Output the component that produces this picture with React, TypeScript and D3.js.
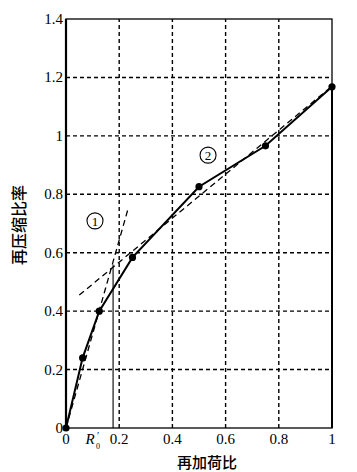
import React from "react";
import * as d3 from "d3";

const pointsX = [0, 0.0625, 0.125, 0.25, 0.5, 0.75, 1];
const pointsY = [0, 0.24, 0.4, 0.584, 0.826, 0.966, 1.168];
const tangent1X = [0, 0.232];
const tangent1Y = [0, 0.746];
const tangent2X = [0.05, 1];
const tangent2Y = [0.455, 1.17];
const rPrime = 0.177;
const rPrimeTop = 0.56;
const xTicks = [0.2, 0.4, 0.6, 0.8, 1];
const xTickLabels = ["0.2", "0.4", "0.6", "0.8", "1"];
const yTicks = [0, 0.2, 0.4, 0.6, 0.8, 1, 1.2, 1.4];
const yTickLabels = ["0", "0.2", "0.4", "0.6", "0.8", "1", "1.2", "1.4"];
const regionLabels = ["1", "2"];
const regionLabelX = [0.109, 0.534];
const regionLabelY = [0.709, 0.934];
const xTitle = "再加荷比";
const yTitle = "再压缩比率";

export default function App() {
  const W = 357, H = 472;
  const x = d3.scaleLinear().domain([0, 1]).range([66, 332]);
  const y = d3.scaleLinear().domain([0, 1.4]).range([428, 19]);
  const line = d3.line<number>().x((d, i) => x(pointsX[i])).y((d, i) => y(pointsY[i]));
  const serif = "'Liberation Serif', 'Times New Roman', serif";
  const cjk = "'Noto Sans CJK SC', sans-serif";
  return (
    <svg width={W} height={H} style={{ position: "absolute", left: 0, top: 0, background: "#fff" }}>
      {/* grid */}
      {xTicks.filter(t => t < 1).map(t => (
        <line key={"gx" + t} x1={x(t)} x2={x(t)} y1={y(0)} y2={y(1.4)} stroke="#000" strokeWidth={1.4} strokeDasharray="4,3" />
      ))}
      {yTicks.filter(t => t > 0 && t < 1.4).map(t => (
        <line key={"gy" + t} x1={x(0)} x2={x(1)} y1={y(t)} y2={y(t)} stroke="#000" strokeWidth={1.4} strokeDasharray="4,3" />
      ))}
      {/* frame */}
      <rect x={x(0)} y={y(1.4)} width={x(1) - x(0)} height={y(0) - y(1.4)} fill="none" stroke="#000" strokeWidth={1.3} />
      <line x1={x(0)} x2={x(0)} y1={y(0)} y2={y(1.4)} stroke="#000" strokeWidth={2.2} />
      <line x1={x(1)} x2={x(1)} y1={y(0)} y2={y(1.17)} stroke="#000" strokeWidth={2} />
      {/* tangents */}
      <line x1={x(tangent1X[0])} y1={y(tangent1Y[0])} x2={x(tangent1X[1])} y2={y(tangent1Y[1])} stroke="#000" strokeWidth={1.3} strokeDasharray="6,4" />
      <line x1={x(tangent2X[0])} y1={y(tangent2Y[0])} x2={x(tangent2X[1])} y2={y(tangent2Y[1])} stroke="#000" strokeWidth={1.3} strokeDasharray="6,4" />
      {/* R'0 */}
      <line x1={x(rPrime)} x2={x(rPrime)} y1={y(0)} y2={y(rPrimeTop)} stroke="#000" strokeWidth={1.1} />
      {/* curve */}
      <path d={line(pointsY) || ""} fill="none" stroke="#000" strokeWidth={2} />
      {pointsX.map((px, i) => (
        <circle key={"p" + i} cx={x(px)} cy={y(pointsY[i])} r={3.6} fill="#000" />
      ))}
      {/* region labels */}
      {regionLabels.map((l, i) => (
        <g key={"rl" + i} transform={`translate(${x(regionLabelX[i])},${y(regionLabelY[i])})`}>
          <circle r={8} fill="none" stroke="#000" strokeWidth={1.1} />
          <text y={0.5} fontFamily={serif} fontSize={13} textAnchor="middle" dominantBaseline="central">{l}</text>
        </g>
      ))}
      {yTicks.map((t, i) => (
        <text key={"yt" + t} x={63} y={y(t)} fontFamily={serif} fontSize={15} textAnchor="end" dominantBaseline="central">{yTickLabels[i]}</text>
      ))}
      <text x={x(0)} y={439} fontFamily={serif} fontSize={15} textAnchor="middle" dominantBaseline="central">0</text>
      {xTicks.map((t, i) => (
        <text key={"xt" + t} x={x(t)} y={439} fontFamily={serif} fontSize={15} textAnchor="middle" dominantBaseline="central">{xTickLabels[i]}</text>
      ))}
      <text x={90} y={439} fontFamily={serif} fontSize={15} fontStyle="italic" textAnchor="middle" dominantBaseline="central">R</text>
      <text x={98} y={435} fontFamily={serif} fontSize={10} textAnchor="middle" dominantBaseline="central">′</text>
      <text x={98} y={446} fontFamily={serif} fontSize={8} textAnchor="middle" dominantBaseline="central">0</text>
      <text x={207} y={461} fontFamily={cjk} fontSize={15} fontWeight={500} textAnchor="middle" dominantBaseline="central">{xTitle}</text>
      <text transform={`translate(18,225) rotate(-90)`} fontFamily={cjk} fontSize={16} fontWeight={500} textAnchor="middle" dominantBaseline="central">{yTitle}</text>
    </svg>
  );
}
